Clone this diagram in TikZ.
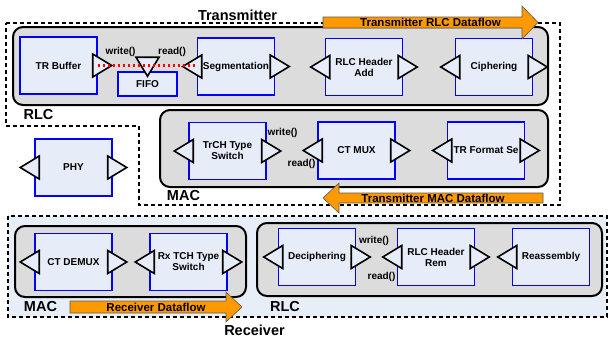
\documentclass[tikz,border=0pt]{standalone}
\usepackage{fontspec}
\setmainfont{Liberation Sans}
\usetikzlibrary{shapes.geometric}
\definecolor{boxgray}{RGB}{220,220,220}
\definecolor{blockfill}{RGB}{230,236,248}
\definecolor{rxfill}{RGB}{232,238,248}
\definecolor{flowfill}{RGB}{255,153,0}
\definecolor{linkred}{RGB}{255,0,0}
\begin{document}
\begin{tikzpicture}[x=1pt,y=-1pt,
    font=\bfseries\fontsize{10}{11}\selectfont,
    layer/.style={draw=black,line width=2pt,fill=boxgray,rounded corners=10pt},
    group/.style={draw=black,line width=2.2pt,dash pattern=on 4pt off 3pt},
    block/.style={draw=blue,line width=1.5pt,fill=blockfill,minimum width=77pt,minimum height=57pt,inner sep=1pt,align=center},
    port/.style={isosceles triangle,isosceles triangle stretches,draw=black,line width=1.6pt,fill=blockfill,minimum width=23pt,minimum height=19pt,inner sep=0pt,outer sep=0pt},
    inport/.style={port,shape border rotate=180,anchor=lower side,xshift=5pt},
    outport/.style={port,anchor=lower side,xshift=-5pt},
    flow/.style={draw=black!65,line width=0.6pt,fill=flowfill},
    title/.style={font=\bfseries\fontsize{14.5}{16}\selectfont},
    flowtext/.style={font=\bfseries\fontsize{11.5}{12}\selectfont,inner sep=0pt},
    call/.style={font=\bfseries\fontsize{10}{11}\selectfont,inner sep=0pt},
    redlink/.style={color=linkred,line width=2.4pt,dash pattern=on 2.5pt off 2.5pt}]
  \useasboundingbox (0,0) rectangle (608,341);

  % transmitter and receiver areas
  \draw[group] (6,23) -- (560,23) -- (560,205) -- (139,205) -- (139,126) -- (6,126) -- cycle;
  \draw[group,fill=rxfill] (8,216) rectangle (607,317);

  % layers
  \draw[layer] (13,27) rectangle (548,105);
  \draw[layer] (160,110) rectangle (548,187);
  \draw[layer] (15,226) rectangle (246,297);
  \draw[layer] (257,223) rectangle (602,296);

  % transmitter RLC
  \node[block] (buf) at (58.5,65.5) {TR Buffer};
  \node[block,minimum width=59pt,minimum height=24pt] (fifo) at (147.5,84) {FIFO};
  \node[block] (seg) at (236,66.5) {Segmentation};
  \node[block] (hdradd) at (364,67) {RLC Header\\Add};
  \node[block] (ciph) at (494,67) {Ciphering};

  % transmitter MAC
  \node[block] (trch) at (227.5,151) {TrCH Type\\Switch};
  \node[block] (ctmux) at (356.5,150.5) {CT MUX};
  \node[block] (trfmt) at (486,150.5) {TR Format Se};

  \node[block] (phy) at (73.5,167.5) {PHY};

  % receiver MAC
  \node[block] (ctdemux) at (73.5,262) {CT DEMUX};
  \node[block] (rxtch) at (188.5,262) {Rx TCH Type\\Switch};

  % receiver RLC
  \node[block] (deciph) at (317,257) {Deciphering};
  \node[block] (hdrrem) at (436,257) {RLC Header\\Rem};
  \node[block] (reasm) at (551,257) {Reassembly};

  % ports
  \node[outport] (bufout) at (buf.east) {};
  \node[port,shape border rotate=270,anchor=apex,yshift=-5pt] (fifoin) at (fifo.north) {};
  \node[inport] (segin) at (seg.west) {};
  \node[outport] (segout) at (seg.east) {};
  \node[inport] (hdraddin) at (hdradd.west) {};
  \node[outport] (hdraddout) at (hdradd.east) {};
  \node[inport] (ciphin) at (ciph.west) {};
  \node[outport] (ciphout) at (ciph.east) {};
  \node[inport] (trchin) at (trch.west) {};
  \node[outport] (trchout) at (trch.east) {};
  \node[inport] (ctmuxin) at (ctmux.west) {};
  \node[outport] (ctmuxout) at (ctmux.east) {};
  \node[inport] (trfmtin) at (trfmt.west) {};
  \node[outport] (trfmtout) at (trfmt.east) {};
  \node[inport] (phyin) at (phy.west) {};
  \node[outport] (phyout) at (phy.east) {};
  \node[inport] (ctdemuxin) at (ctdemux.west) {};
  \node[outport] (ctdemuxout) at (ctdemux.east) {};
  \node[inport] (rxtchin) at (rxtch.west) {};
  \node[outport] (rxtchout) at (rxtch.east) {};
  \node[inport] (deciphin) at (deciph.west) {};
  \node[outport] (deciphout) at (deciph.east) {};
  \node[inport] (hdrremin) at (hdrrem.west) {};
  \node[outport] (hdrremout) at (hdrrem.east) {};
  \node[inport] (reasmin) at (reasm.west) {};

  \draw[redlink] (buf.east |- bufout.lower side) -- (seg.west |- bufout.lower side);

  % calls
  \node[call] (txwrite) at (120.5,51.5) {write()};
  \node[call] (txread) at (172,51.5) {read()};
  \node[call] (macwrite) at (282.5,133) {write()};
  \node[call] (macread) at (301.5,164) {read()};
  \node[call] (rxwrite) at (374,241) {write()};
  \node[call] (rxread) at (381.5,277) {read()};

  % area labels
  \node[title] (txlabel) at (237.5,15) {Transmitter};
  \node[title] (txrlc) at (38.5,115) {RLC};
  \node[title] (txmac) at (183.5,195.5) {MAC};
  \node[title] (rxmac) at (40.5,307) {MAC};
  \node[title] (rxrlc) at (285,307) {RLC};
  \node[title] (rxlabel) at (254.5,330) {Receiver};

  % dataflow arrows
  \filldraw[flow] (323,17) -- (522,17) -- (522,6) -- (538,22.5) -- (522,39) -- (522,28) -- (323,28) -- cycle;
  \node[flowtext] (txrlcflow) at (430.5,22.5) {Transmitter RLC Dataflow};
  \filldraw[flow] (543,193) -- (339,193) -- (339,183) -- (323,198) -- (339,213) -- (339,203) -- (543,203) -- cycle;
  \node[flowtext] (txmacflow) at (433,198) {Transmitter MAC Dataflow};
  \filldraw[flow] (70,301) -- (226,301) -- (226,292) -- (242,307) -- (226,322) -- (226,313) -- (70,313) -- cycle;
  \node[flowtext] (rxflow) at (156,307) {Receiver Dataflow};
\end{tikzpicture}
\end{document}
